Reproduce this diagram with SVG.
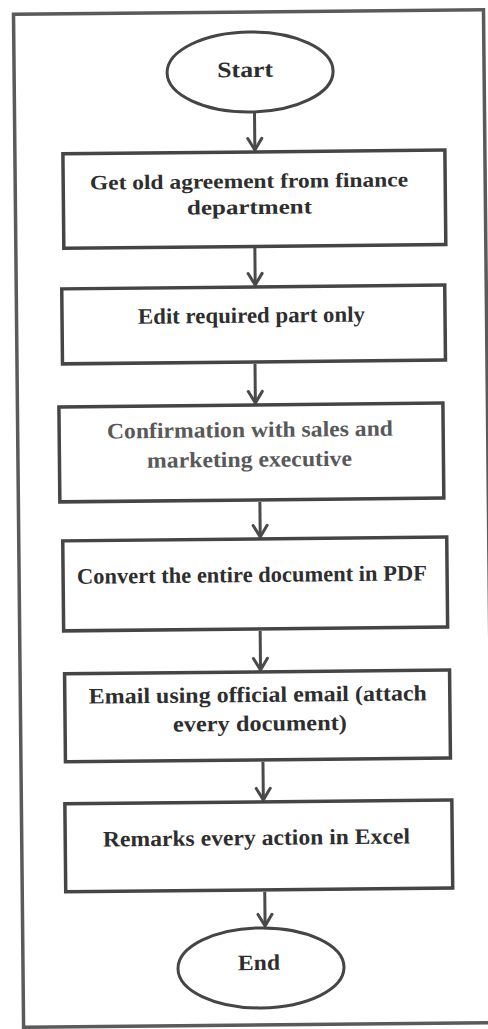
<svg xmlns="http://www.w3.org/2000/svg" width="488" height="1029" viewBox="0 0 488 1029">
  <style>
    .frame { fill: none; stroke: #5a5a5a; stroke-width: 3.5; }
    .box { fill: #ffffff; stroke: #454545; stroke-width: 3.5; }
    .term { fill: #ffffff; stroke: #454545; stroke-width: 3; }
    .lbl { font-family: "Liberation Serif", "Times New Roman", serif; font-size: 22px; font-weight: bold; fill: #2e2e2e; text-anchor: middle; }
    .tight { font-size: 20.5px; }
    .soft { fill: #595959; }
    .flow { fill: none; stroke: #4a4a4a; stroke-width: 3; }
  </style>
  <defs>
    <marker id="vhead" viewBox="0 0 16 18" markerWidth="16" markerHeight="18" refX="13.5" refY="9" orient="auto" markerUnits="userSpaceOnUse">
      <path d="M2,2 L13.5,9 L2,16" fill="none" stroke="#4a4a4a" stroke-width="3" stroke-linecap="round" stroke-linejoin="round"/>
    </marker>
  </defs>
  <rect width="488" height="1029" fill="#ffffff"/>
  <!-- the whole sheet sits tilted by a fraction of a degree -->
  <g transform="rotate(-0.57 250 515)">
    <rect class="frame" x="18.5" y="12" width="470" height="1013"/>

    <g id="connectors">
      <path class="flow" d="M258.5,112 V150" marker-end="url(#vhead)"/>
      <path class="flow" d="M257.5,248 V285" marker-end="url(#vhead)"/>
      <path class="flow" d="M256.5,364 V403" marker-end="url(#vhead)"/>
      <path class="flow" d="M260,502 V537" marker-end="url(#vhead)"/>
      <path class="flow" d="M259,631 V670" marker-end="url(#vhead)"/>
      <path class="flow" d="M260.5,762 V800" marker-end="url(#vhead)"/>
      <path class="flow" d="M261,892 V926" marker-end="url(#vhead)"/>
    </g>

    <g id="start">
      <ellipse class="term" cx="254.5" cy="72" rx="83" ry="40"/>
      <text class="lbl" x="249.5" y="77" textLength="56" lengthAdjust="spacingAndGlyphs">Start</text>
    </g>

    <g id="get-agreement">
      <rect class="box" x="66.5" y="152" width="382" height="94.5"/>
      <text class="lbl tight" x="252.3" y="188" textLength="318" lengthAdjust="spacingAndGlyphs">Get old agreement from finance</text>
      <text class="lbl tight" x="252.5" y="214" textLength="125" lengthAdjust="spacingAndGlyphs">department</text>
    </g>

    <g id="edit-part">
      <rect class="box" x="64" y="287" width="383" height="75"/>
      <text class="lbl" x="253.4" y="322.7" textLength="227" lengthAdjust="spacingAndGlyphs">Edit required part only</text>
    </g>

    <g id="confirmation">
      <rect class="box" x="60" y="405" width="384" height="95"/>
      <text class="lbl soft" x="250.8" y="437" textLength="286" lengthAdjust="spacingAndGlyphs">Confirmation with sales and</text>
      <text class="lbl soft" x="250" y="466.7" textLength="205" lengthAdjust="spacingAndGlyphs">marketing executive</text>
    </g>

    <g id="convert-pdf">
      <rect class="box" x="62.5" y="539" width="384" height="90"/>
      <text class="lbl" x="251.3" y="582" textLength="350" lengthAdjust="spacingAndGlyphs">Convert the entire document in PDF</text>
    </g>

    <g id="email">
      <rect class="box" x="63" y="672" width="385" height="88"/>
      <text class="lbl" x="256" y="702" textLength="338" lengthAdjust="spacingAndGlyphs">Email using official email (attach</text>
      <text class="lbl" x="257.8" y="730.8" textLength="174" lengthAdjust="spacingAndGlyphs">every document)</text>
    </g>

    <g id="remarks">
      <rect class="box" x="62" y="802" width="387" height="88"/>
      <text class="lbl" x="253.2" y="845" textLength="307" lengthAdjust="spacingAndGlyphs">Remarks every action in Excel</text>
    </g>

    <g id="end">
      <ellipse class="term" cx="256.5" cy="968" rx="83" ry="40"/>
      <text class="lbl" x="254.5" y="970" textLength="42" lengthAdjust="spacingAndGlyphs">End</text>
    </g>
  </g>
</svg>
